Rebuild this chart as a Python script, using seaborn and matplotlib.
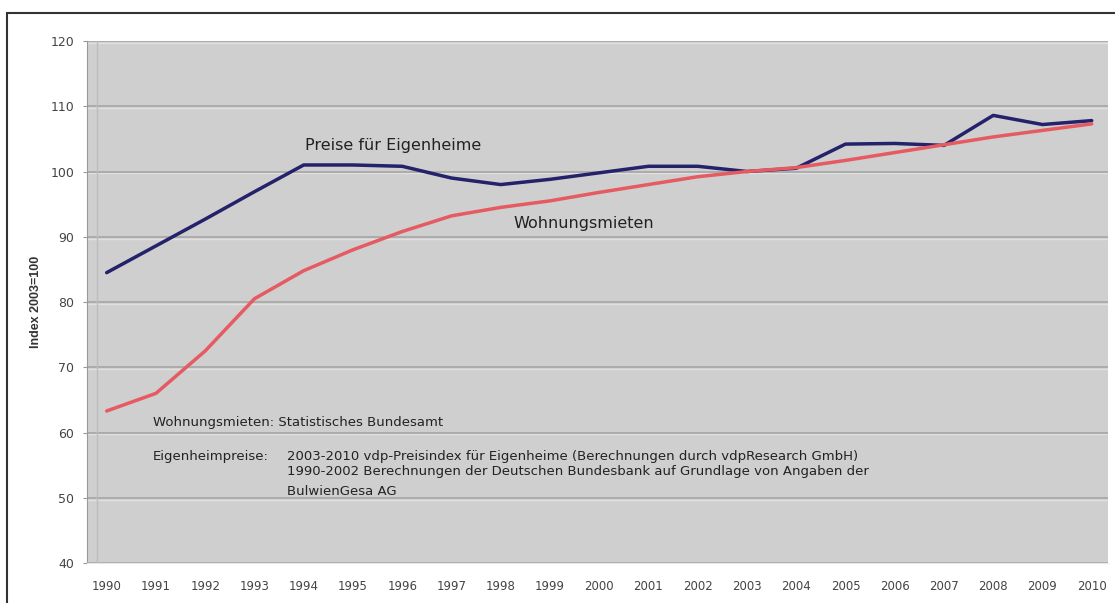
import matplotlib
matplotlib.use("Agg")
import matplotlib.pyplot as plt
import seaborn as sns
import pandas as pd
from matplotlib.patches import Rectangle

years = ["1990", "1991", "1992", "1993", "1994", "1995", "1996", "1997", "1998", "1999",
         "2000", "2001", "2002", "2003", "2004", "2005", "2006", "2007", "2008", "2009", "2010"]
eigenheime = [84.5, 88.6, 92.7, 96.9, 101.0, 101.0, 100.8, 99.0, 98.0, 98.8,
              99.8, 100.8, 100.8, 100.0, 100.5, 104.2, 104.3, 104.0, 108.6, 107.2, 107.8]
mieten = [63.3, 66.0, 72.5, 80.5, 84.8, 88.0, 90.8, 93.2, 94.5, 95.5,
          96.8, 98.0, 99.2, 100.0, 100.6, 101.7, 102.9, 104.1, 105.3, 106.3, 107.3]
series_names = ["Preise für Eigenheime", "Wohnungsmieten"]
y_ticks = [40, 50, 60, 70, 80, 90, 100, 110, 120]
y_label = "Index 2003=100"
note_lines = [
    "Wohnungsmieten: Statistisches Bundesamt",
    "Eigenheimpreise:",
    "2003-2010 vdp-Preisindex für Eigenheime (Berechnungen durch vdpResearch GmbH)",
    "1990-2002 Berechnungen der Deutschen Bundesbank auf Grundlage von Angaben der",
    "BulwienGesa AG",
]

df = pd.DataFrame({
    "idx": list(range(len(years))) * 2,
    "value": eigenheime + mieten,
    "series": [series_names[0]] * len(years) + [series_names[1]] * len(years),
})

sns.set_style("white")
plt.rcParams["font.family"] = ["DejaVu Sans"]

fig = plt.figure(figsize=(11.15, 6.03), dpi=100)
ax = fig.add_axes([0.078, 0.0663, 0.9157, 0.8657])
ax.set_facecolor("#cfcfcf")

for y in y_ticks:
    ax.axhline(y, color="#a9a9a9", lw=1.3, zorder=0.5)
    ax.axhline(y - 0.3, color="#e0e0e0", lw=1.0, zorder=0.4)
ax.axvline(-0.2, color="#bcbcbc", lw=1.0, zorder=0.6)

sns.lineplot(data=df, x="idx", y="value", hue="series",
             palette={series_names[0]: "#23226b", series_names[1]: "#e65a62"},
             lw=2.5, ax=ax, legend=False, zorder=3)

ax.set_xlim(-0.4, 20.33)
ax.set_ylim(40, 120)
ax.set_yticks(y_ticks)
ax.set_yticklabels([str(v) for v in y_ticks], fontsize=9, color="#444444")
ax.set_xticks(range(len(years)))
ax.set_xticklabels(years, fontsize=8.5, color="#444444")
ax.tick_params(axis="y", length=3, pad=6, color="#999999", left=True)
ax.tick_params(axis="x", length=0, pad=12)
ax.set_xlabel("")
ax.set_ylabel(y_label, fontsize=9, fontweight="bold", color="#333333",
              family="Liberation Sans")
ax.yaxis.set_label_coords(-0.044, 0.5)

for s in ["top", "right"]:
    ax.spines[s].set_visible(False)
ax.spines["left"].set_color("#999999")
ax.spines["bottom"].set_color("#e8e8e8")

ax.text(4.03, 104.06, series_names[0], fontsize=11.5, color="#222222", va="center", ha="left")
ax.text(8.25, 92.1, series_names[1], fontsize=11.5, color="#222222", va="center", ha="left")

ax.text(0.94, 61.46, note_lines[0], fontsize=9.5, color="#222222", va="center")
ax.text(0.94, 56.25, note_lines[1], fontsize=9.5, color="#222222", va="center")
ax.text(3.66, 56.25, note_lines[2], fontsize=9.5, color="#222222", va="center")
ax.text(3.66, 53.95, note_lines[3], fontsize=9.5, color="#222222", va="center")
ax.text(3.66, 50.9, note_lines[4], fontsize=9.5, color="#222222", va="center")

fig.patches.append(Rectangle((7 / 1115, -0.2), 1.2, 0.2 + (1 - 13 / 603),
                             transform=fig.transFigure, fill=False,
                             edgecolor="#333333", lw=1.5, zorder=10))

fig.savefig("out.png", dpi=100)
